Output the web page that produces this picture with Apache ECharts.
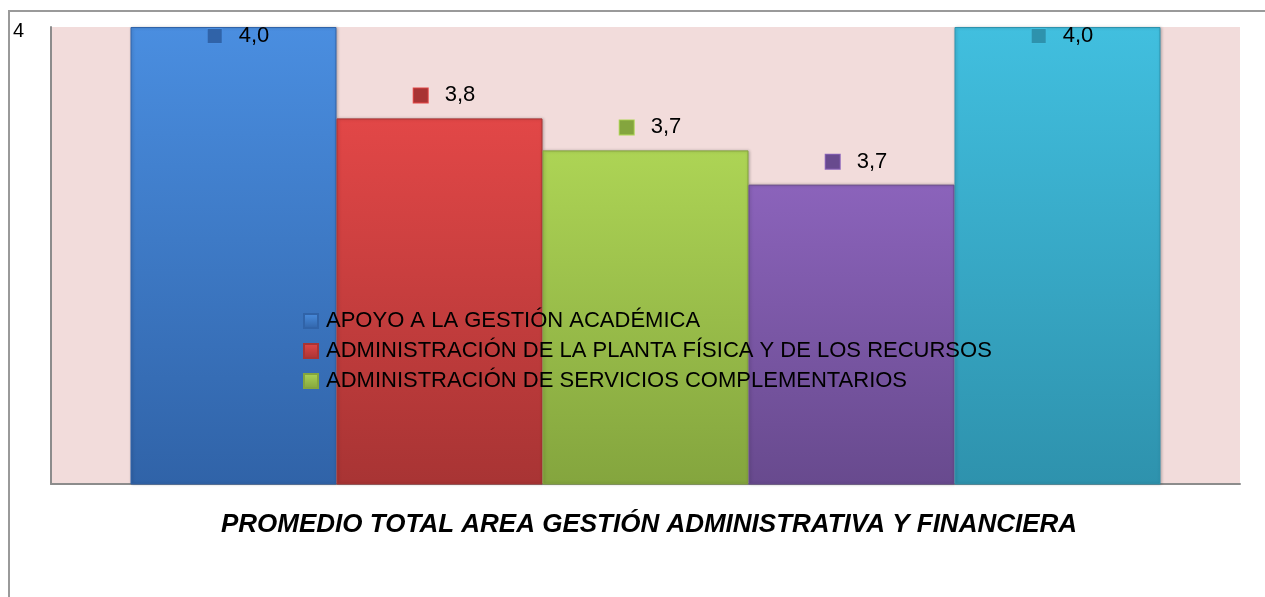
<!DOCTYPE html>
<html>
<head>
<meta charset="utf-8">
<style>
  html, body { margin: 0; padding: 0; background: #fff; }
  #chart { width: 1265px; height: 597px; }
</style>
<script src="https://cdn.jsdelivr.net/npm/echarts@6/dist/echarts.min.js"></script>
</head>
<body>
<div id="chart"></div>
<script>
const categories = ['PROMEDIO TOTAL AREA GESTIÓN ADMINISTRATIVA Y FINANCIERA'];
const seriesNames = [
  'APOYO A LA GESTIÓN ACADÉMICA',
  'ADMINISTRACIÓN DE LA PLANTA FÍSICA Y DE LOS RECURSOS',
  'ADMINISTRACIÓN DE SERVICIOS COMPLEMENTARIOS',
  'GESTIÓN FINANCIERA Y CONTABLE',
  'TALENTO HUMANO'
];
const seriesValues = [4.0, 3.8, 3.73, 3.655, 4.0];
const yTicks = [3, 4];

// top / bottom shades of each bar
const palette = [
  ['#4a8ee0', '#3063a8'],
  ['#e24747', '#a83434'],
  ['#add455', '#84a53e'],
  ['#8b63bb', '#684a8e'],
  ['#41bfdf', '#2e92ad']
];

function grad(c) {
  return new echarts.graphic.LinearGradient(0, 0, 0, 1, [
    { offset: 0, color: c[0] },
    { offset: 1, color: c[1] }
  ]);
}

function fmt(v) {
  return (Math.round(v * 10) / 10).toFixed(1).replace('.', ',');
}

const chart = echarts.init(document.getElementById('chart'));

const series = seriesNames.map((name, i) => ({
  name,
  type: 'bar',
  barWidth: 206,
  barGap: '0%',
  data: [seriesValues[i]],
  itemStyle: {
    color: grad(palette[i]),
    borderColor: palette[i][1],
    borderWidth: 1,
    shadowColor: 'rgba(0,0,0,0.25)',
    shadowBlur: 3,
    shadowOffsetX: 1
  },
  label: {
    show: true,
    position: 'top',
    distance: 12,
    offset: seriesValues[i] >= 4 ? [5, 32] : [5, 0],
    formatter: p => '{m|}{v|' + fmt(p.value) + '}',
    rich: {
      m: {
        width: 14,
        height: 14,
        backgroundColor: palette[i][1],
        borderColor: palette[i][0],
        borderWidth: 1
      },
      v: { fontSize: 22, color: '#000', fontFamily: 'Liberation Sans', padding: [0, 0, 0, 17] }
    }
  }
}));

chart.setOption({
  animation: false,
  title: {
    text: categories[0],
    left: 216,
    top: 507,
    textStyle: {
      fontFamily: 'Liberation Sans Narrow, Liberation Sans',
      fontStyle: 'italic',
      fontWeight: 'bold',
      fontSize: 26,
      color: '#000'
    }
  },
  legend: {
    data: seriesNames.slice(0, 3),
    orient: 'vertical',
    left: 298,
    top: 305,
    itemWidth: 14,
    itemHeight: 14,
    itemGap: 8,
    icon: 'rect',
    textStyle: {
      fontSize: 22,
      fontFamily: 'Liberation Sans',
      color: '#000',
      padding: [0, 0, 0, 3]
    }
  },
  grid: {
    left: 51,
    right: 25,
    top: 27,
    bottom: 113,
    show: true,
    backgroundColor: '#f2dcdb',
    borderWidth: 0
  },
  xAxis: {
    type: 'category',
    data: categories,
    axisLine: { lineStyle: { color: '#8c8c8c', width: 2 } },
    axisTick: { show: false },
    axisLabel: { show: false }
  },
  yAxis: {
    type: 'value',
    min: yTicks[0],
    max: yTicks[1],
    interval: 1,
    splitLine: { show: false },
    axisLine: { show: true, lineStyle: { color: '#8c8c8c', width: 2 } },
    axisTick: { show: false },
    axisLabel: {
      margin: 27,
      fontSize: 20,
      color: '#000',
      fontFamily: 'Liberation Sans',
      verticalAlign: 'top',
      lineHeight: 8,
      formatter: v => (v === yTicks[1] ? String(v) : '')
    }
  },
  graphic: [
    {
      type: 'polyline',
      shape: { points: [[9, 597], [9, 11], [1265, 11]] },
      style: { stroke: '#9a9a9a', lineWidth: 2, fill: null },
      silent: true
    }
  ],
  series
});
</script>
</body>
</html>
